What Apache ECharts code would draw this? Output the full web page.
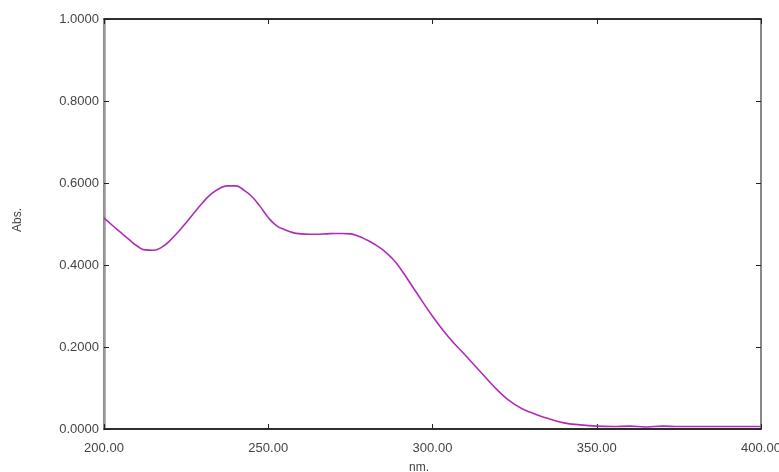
<!DOCTYPE html>
<html>
<head>
<meta charset="utf-8">
<script src="https://cdn.jsdelivr.net/npm/echarts@6/dist/echarts.min.js"></script>
<style>html,body{margin:0;padding:0;background:#fff}#c{width:779px;height:472px}</style>
</head>
<body>
<div id="c"></div>
<script>
const wavelengths = [200,202.5,205,207.5,210,212.5,215,217.5,220,222.5,225,227.5,230,232.5,235,237.5,240,242.5,245,247.5,250,252.5,255,257.5,260,262.5,265,267.5,270,272.5,275,277.5,280,282.5,285,287.5,290,295,300,305,310,315,320,325,330,335,340,345,350,355,360,365,370,375,380,385,390,395,400];
const absorbance = [0.515,0.497,0.480,0.463,0.447,0.437,0.436,0.443,0.459,0.480,0.503,0.528,0.552,0.572,0.586,0.593,0.593,0.583,0.567,0.543,0.516,0.496,0.486,0.479,0.476,0.475,0.475,0.476,0.477,0.477,0.476,0.470,0.461,0.450,0.436,0.418,0.394,0.334,0.275,0.223,0.180,0.136,0.093,0.060,0.040,0.026,0.015,0.010,0.007,0.006,0.007,0.005,0.007,0.006,0.006,0.006,0.006,0.006,0.006];
const xTicks = {min:200, max:400, interval:50};
const yTicks = {min:0, max:1, interval:0.2};

const chart = echarts.init(document.getElementById('c'));
const font = 'Liberation Sans, Arial, sans-serif';
const txt = '#444';
const tickStyle = {show:true, inside:true, length:5, lineStyle:{color:'#222', width:1}};
chart.setOption({
  animation:false,
  backgroundColor:'#fff',
  grid:{left:104, right:18, top:19, bottom:43, outerBoundsMode:'none', containLabel:false, show:true, borderColor:'#111', borderWidth:1.2},
  xAxis:[{
    type:'value', min:xTicks.min, max:xTicks.max, interval:xTicks.interval,
    axisLine:{show:true, onZero:false, lineStyle:{color:'#111', width:1.5}},
    axisTick:tickStyle, splitLine:{show:false},
    axisLabel:{color:txt, fontFamily:font, fontSize:13, margin:13, formatter:v=>v.toFixed(2)}
  },{
    type:'value', position:'top', min:xTicks.min, max:xTicks.max, interval:xTicks.interval,
    axisLine:{show:true, onZero:false, lineStyle:{color:'#111', width:1.5}},
    axisTick:tickStyle, splitLine:{show:false}, axisLabel:{show:false}
  }],
  yAxis:[{
    type:'value', min:yTicks.min, max:yTicks.max, interval:yTicks.interval,
    axisLine:{show:true, onZero:false, lineStyle:{color:'#999', width:2.5}},
    axisTick:tickStyle, splitLine:{show:false},
    axisLabel:{color:txt, fontFamily:font, fontSize:13, margin:5, formatter:v=>v.toFixed(4)}
  },{
    type:'value', position:'right', min:yTicks.min, max:yTicks.max, interval:yTicks.interval,
    axisLine:{show:true, onZero:false, lineStyle:{color:'#888', width:2}},
    axisTick:tickStyle, splitLine:{show:false}, axisLabel:{show:false}
  }],
  series:[{
    type:'line', xAxisIndex:0, yAxisIndex:0, smooth:true, showSymbol:false,
    data:wavelengths.map((w,i)=>[w, absorbance[i]]),
    lineStyle:{color:'#b02cb8', width:1.6}
  }],
  graphic:[
    {type:'text', left:409, top:462, style:{text:'nm.', fill:txt, font:'12px '+font}},
    {type:'text', x:12, y:232, rotation:Math.PI/2, style:{text:'Abs.', fill:txt, font:'12px '+font}}
  ]
});
</script>
</body>
</html>
